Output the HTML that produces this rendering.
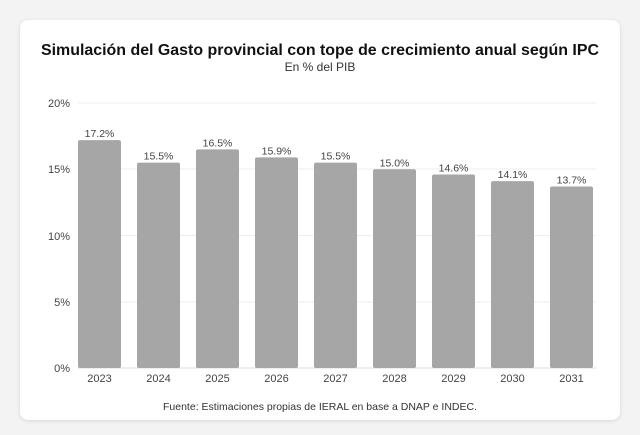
<!DOCTYPE html>
<html><head><style>
body{margin:0;background:#f3f3f3;width:640px;height:435px;overflow:hidden;font-family:"Liberation Sans",sans-serif}
.card{position:absolute;left:20px;top:20px;width:600px;height:400px;background:#fff;border-radius:8px;box-shadow:0 1px 4px rgba(0,0,0,0.12)}
</style></head><body>
<div class="card"></div>
<svg width="640" height="435" style="position:absolute;left:0;top:0" font-family="Liberation Sans, sans-serif">
<text x="320" y="55" text-anchor="middle" font-size="15.5" font-weight="bold" fill="#111" textLength="558" lengthAdjust="spacingAndGlyphs">Simulación del Gasto provincial con tope de crecimiento anual según IPC</text>
<text x="320" y="71" text-anchor="middle" font-size="12" fill="#333">En % del PIB</text>
<g stroke="#eeeeee" stroke-width="1">
<line x1="78" x2="596" y1="103" y2="103"/><line x1="78" x2="596" y1="169" y2="169"/><line x1="78" x2="596" y1="235.5" y2="235.5"/><line x1="78" x2="596" y1="302" y2="302"/>
</g>
<line x1="78" x2="596" y1="368" y2="368" stroke="#ddd"/>
<g font-size="11" fill="#444" text-anchor="end">
<text x="70" y="107">20%</text><text x="70" y="173">15%</text><text x="70" y="240">10%</text><text x="70" y="306">5%</text><text x="70" y="372">0%</text>
</g>
<g fill="#a6a6a6" id="bars"></g>
<g id="lbl" font-size="10.5" fill="#444" text-anchor="middle"></g>
<text x="320" y="410" text-anchor="middle" font-size="10.5" fill="#333">Fuente: Estimaciones propias de IERAL en base a DNAP e INDEC.</text>
</svg>
<script>
var v=[17.2,15.5,16.5,15.9,15.5,15.0,14.6,14.1,13.7],b='',l='';
v.forEach(function(d,i){var x=78+i*59,h=d*13.25,y=368-h;
b+='<rect x="'+x+'" y="'+y+'" width="43" height="'+h+'" rx="2"/>';
l+='<text x="'+(x+21.5)+'" y="'+(y-3)+'">'+d.toFixed(1)+'%</text><text x="'+(x+21.5)+'" y="382" font-size="11">'+(2023+i)+'</text>';});
document.getElementById('bars').innerHTML=b;document.getElementById('lbl').innerHTML=l;
</script>
</body></html>
